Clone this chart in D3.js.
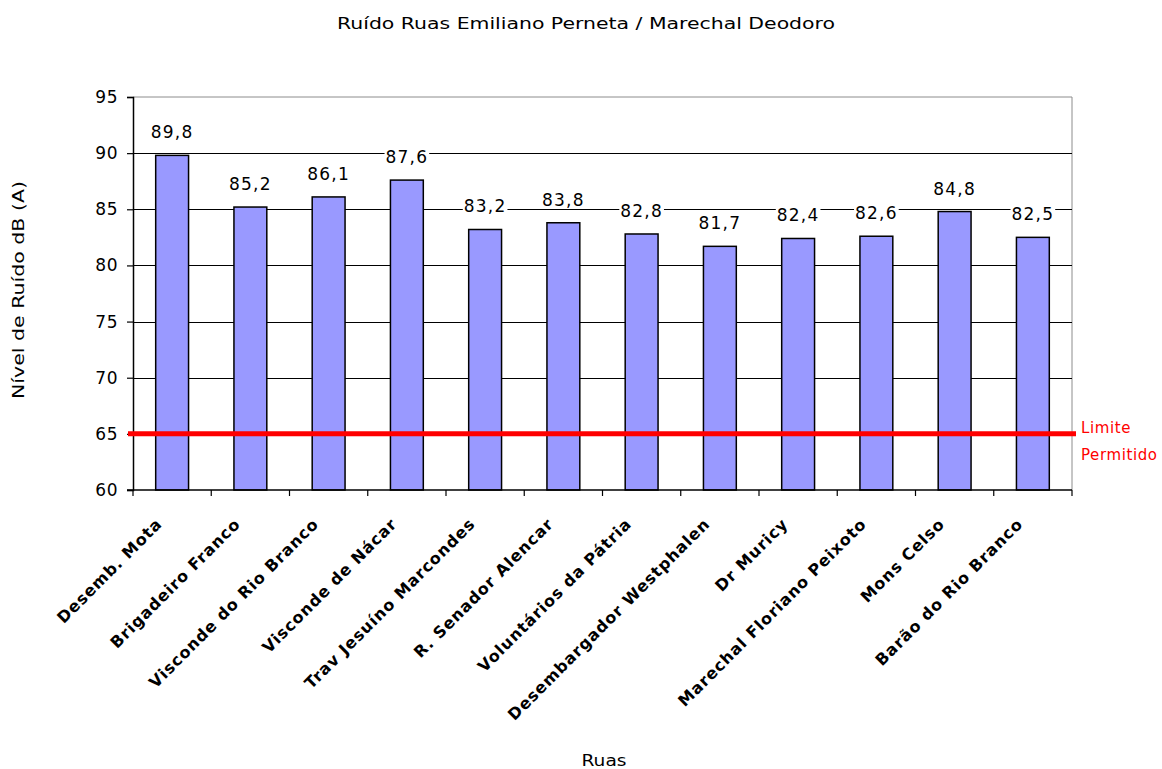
<!DOCTYPE html>
<html>
<head>
<meta charset="utf-8">
<script src="https://cdn.jsdelivr.net/npm/d3@7"></script>
<style>
  html, body { margin: 0; padding: 0; background: #ffffff; }
  svg { display: block; }
  text { font-family: "DejaVu Sans", "Liberation Sans", Arial, sans-serif; fill: #000; }
</style>
</head>
<body>
<svg id="chart" width="1162" height="769"></svg>
<script>
// Street names (x categories) and measured noise levels in dB(A)
const ruas = [
  "Desemb. Mota",
  "Brigadeiro Franco",
  "Visconde do Rio Branco",
  "Visconde de Nácar",
  "Trav Jesuíno Marcondes",
  "R. Senador Alencar",
  "Voluntários da Pátria",
  "Desembargador Westphalen",
  "Dr Muricy",
  "Marechal Floriano Peixoto",
  "Mons Celso",
  "Barão do Rio Branco"
];
const nivelRuido = [89.8, 85.2, 86.1, 87.6, 83.2, 83.8, 82.8, 81.7, 82.4, 82.6, 84.8, 82.5];
const yTicks = [60, 65, 70, 75, 80, 85, 90, 95];
const limitePermitido = 65;

const titulo = "Ruído Ruas Emiliano Perneta / Marechal Deodoro";
const tituloY = "Nível de Ruído dB (A)";
const tituloX = "Ruas";
const limiteLinhas = ["Limite", "Permitido"];

const svg = d3.select("#chart");
const plot = { left: 133, right: 1072, top: 97, bottom: 490 };

const x = d3.scaleBand()
  .domain(ruas)
  .range([plot.left, plot.right])
  .padding(0);

const y = d3.scaleLinear()
  .domain([60, 95])
  .range([plot.bottom, plot.top]);

const barW = x.bandwidth() * 0.42;
const fmt = v => d3.format(".1f")(v).replace(".", ",");

// Plot frame (top and right in grey)
svg.append("line")
  .attr("x1", plot.left).attr("x2", plot.right)
  .attr("y1", y(95)).attr("y2", y(95))
  .attr("stroke", "#8c8c8c").attr("stroke-width", 1);
svg.append("line")
  .attr("x1", plot.right).attr("x2", plot.right)
  .attr("y1", plot.top).attr("y2", plot.bottom)
  .attr("stroke", "#8c8c8c").attr("stroke-width", 1);

// Horizontal gridlines
svg.append("g")
  .selectAll("line")
  .data(yTicks.filter(t => t > 60 && t < 95))
  .join("line")
  .attr("x1", plot.left).attr("x2", plot.right)
  .attr("y1", d => Math.round(y(d)) + 0.5).attr("y2", d => Math.round(y(d)) + 0.5)
  .attr("stroke", "#000").attr("stroke-width", 1.2);

// Bars
svg.append("g")
  .selectAll("rect")
  .data(nivelRuido)
  .join("rect")
  .attr("x", (d, i) => x(ruas[i]) + (x.bandwidth() - barW) / 2)
  .attr("y", d => y(d))
  .attr("width", barW)
  .attr("height", d => y(60) - y(d))
  .attr("fill", "#9999ff")
  .attr("stroke", "#000")
  .attr("stroke-width", 1.5);

// Y axis
const yAxis = svg.append("g")
  .attr("transform", `translate(${plot.left},0)`)
  .call(d3.axisLeft(y).tickValues(yTicks).tickSize(6).tickPadding(9).tickFormat(d3.format("d")));
yAxis.select(".domain").attr("stroke", "#000").attr("stroke-width", 1.5);
yAxis.selectAll(".tick line").attr("stroke", "#000").attr("stroke-width", 1.2);
yAxis.selectAll(".tick text")
  .style("font-family", "'DejaVu Sans', sans-serif")
  .style("font-size", "17px")
  .style("letter-spacing", "0.5px")
  .attr("fill", "#000");

// X axis with category boundary ticks
const xAxisG = svg.append("g").attr("transform", `translate(0,${plot.bottom})`);
xAxisG.append("line")
  .attr("x1", plot.left - 6).attr("x2", plot.right)
  .attr("stroke", "#000").attr("stroke-width", 1.5);
const bounds = ruas.map(r => x(r)).concat([plot.right]);
xAxisG.selectAll("line.tk")
  .data(bounds)
  .join("line")
  .attr("class", "tk")
  .attr("x1", d => d).attr("x2", d => d)
  .attr("y1", 0).attr("y2", 6)
  .attr("stroke", "#000").attr("stroke-width", 1.2);

// Rotated category labels
svg.append("g")
  .selectAll("text")
  .data(ruas)
  .join("text")
  .attr("transform", d => `translate(${x(d) + x.bandwidth() / 2 - 9},${plot.bottom + 35}) rotate(-45)`)
  .attr("text-anchor", "end")
  .style("font-size", "16px")
  .style("font-weight", "bold")
  .style("letter-spacing", "0.9px")
  .text(d => d);

// Permitted limit line
svg.append("line")
  .attr("x1", plot.left - 5).attr("x2", plot.right + 4)
  .attr("y1", y(limitePermitido)).attr("y2", y(limitePermitido))
  .attr("stroke", "#ff0000").attr("stroke-width", 5);

svg.append("g")
  .selectAll("text")
  .data(limiteLinhas)
  .join("text")
  .attr("x", plot.right + 9)
  .attr("y", (d, i) => y(limitePermitido) - 1 + i * 27)
  .style("font-size", "15px")
  .style("letter-spacing", "0.6px")
  .style("fill", "#ff0000")
  .text(d => d);

// Value labels with white backing
const labels = svg.append("g");
nivelRuido.forEach((v, i) => {
  const g = labels.append("g");
  const t = g.append("text")
    .attr("x", x(ruas[i]) + x.bandwidth() / 2)
    .attr("y", y(v) - 17)
    .attr("text-anchor", "middle")
    .style("font-size", "17px")
    .style("letter-spacing", "1.2px")
    .text(fmt(v));
  const bb = t.node().getBBox();
  g.insert("rect", "text")
    .attr("x", bb.x - 1).attr("y", bb.y + 2)
    .attr("width", bb.width + 2).attr("height", bb.height - 3)
    .attr("fill", "#fff");
});

// Titles
svg.append("text")
  .attr("x", 586).attr("y", 29)
  .attr("text-anchor", "middle")
  .attr("textLength", 498)
  .attr("lengthAdjust", "spacingAndGlyphs")
  .style("font-size", "16px")
  .text(titulo);

svg.append("text")
  .attr("transform", "translate(24,290) rotate(-90)")
  .attr("text-anchor", "middle")
  .attr("textLength", 218)
  .attr("lengthAdjust", "spacingAndGlyphs")
  .style("font-size", "16px")
  .text(tituloY);

svg.append("text")
  .attr("x", 604).attr("y", 766)
  .attr("text-anchor", "middle")
  .attr("textLength", 45)
  .attr("lengthAdjust", "spacingAndGlyphs")
  .style("font-size", "16px")
  .text(tituloX);
</script>
</body>
</html>
